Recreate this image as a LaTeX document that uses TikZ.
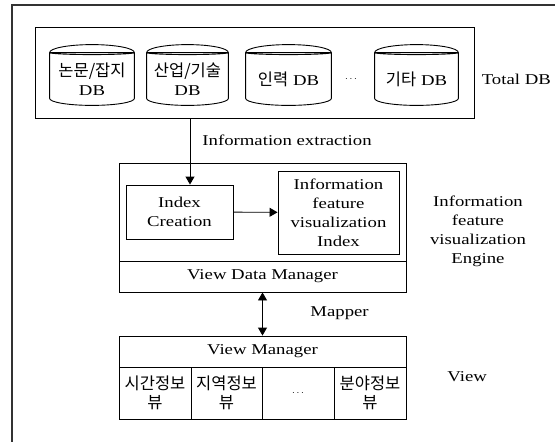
\documentclass[tikz,border=0pt]{standalone}
\usepackage{fontspec}
\setmainfont[FakeStretch=1.25]{Liberation Serif}
\newfontfamily\kr[Scale=1.1]{Noto Sans CJK KR}
\usetikzlibrary{arrows.meta,positioning,calc}

\begin{document}
\begin{tikzpicture}[x=1pt, y=-1pt, thick, font=\fontsize{15}{19}\selectfont,
    box/.style={rectangle, draw, line width=0.9pt, inner sep=0pt, align=center},
    dbcyl/.style={rectangle, inner sep=0pt, align=center, minimum height=52pt},
    tag/.style={inner sep=0pt, align=center},
    tip/.style={-{Triangle[length=8pt, width=9pt]}, line width=0.9pt},
    tips/.style={{Triangle[length=8pt, width=9pt]}-{Triangle[length=8pt, width=9pt]}, line width=0.9pt}]
    \useasboundingbox (0,0) rectangle (555,442);
    % outer frame
    \draw[line width=1.6pt, black!80] (12,442) -- (12,5) -- (555,5);

    % Total DB
    \node[box, minimum width=439pt, minimum height=91pt] (totaldb) at (254.5,72.5) {};
    \node[dbcyl, minimum width=84pt] (db1) at (92,79) {{\kr 논문/잡지}\\DB};
    \node[dbcyl, minimum width=81pt] (db2) at (187.5,79) {{\kr 산업/기술}\\DB};
    \node[dbcyl, minimum width=85pt] (db3) at (288.5,79) {{\kr 인력} DB};
    \node[tag] (dbdots) at (351,79) {\fontsize{10}{12}\selectfont$\cdots$};
    \node[dbcyl, minimum width=83pt] (db4) at (416.5,79) {{\kr 기타} DB};
    \foreach \db in {db1,db2,db3,db4}
        \draw[line width=0.9pt] let \p1=(\db.north west), \p2=(\db.south east), \n1={(\x2-\x1)/2} in
            (\x1,\y1) arc[start angle=180, end angle=0, x radius=\n1, y radius=8pt]
            -- (\x2,\y2+7pt) arc[start angle=0, end angle=-180, x radius=\n1, y radius=7pt] -- cycle
            (\x1,\y1) -- (\x2,\y1)
            (\x1,\y1) arc[start angle=180, end angle=360, x radius=\n1, y radius=2pt];
    \node[tag, right=23pt of db4] (totallbl) {Total DB};

    % engine
    \node[box, minimum width=287pt, minimum height=98pt] (engine) at (262.5,212) {};
    \node[box, minimum width=287pt, minimum height=31pt] (vdm) at (262.5,276.5) {View Data Manager};
    \node[box, minimum width=107pt, minimum height=54pt] (index) at (179.5,212) {Index\\Creation};
    \node[box, minimum width=121pt, minimum height=83pt] (info) at (338.5,212.5) {Information\\feature\\visualization\\Index};
    \node[tag] (englbl) at (478,231) {Information\\feature\\visualization\\Engine};

    % view
    \node[box, minimum width=287pt, minimum height=31pt] (vm) at (262.5,351.5) {View Manager};
    \node[box, minimum width=72pt, minimum height=52pt] (v1) at (155,393) {{\kr 시간정보}\\{\kr 뷰}};
    \node[box, minimum width=71pt, minimum height=52pt] (v2) at (226.5,393) {{\kr 지역정보}\\{\kr 뷰}};
    \node[box, minimum width=72pt, minimum height=52pt] (v3) at (298,393) {\fontsize{10}{12}\selectfont$\cdots$};
    \node[box, minimum width=72pt, minimum height=52pt] (v4) at (370,393) {{\kr 분야정보}\\{\kr 뷰}};
    \node[tag, anchor=west] (viewlbl) at (447,377) {View};

    % connectors
    \coordinate (exx) at (190,0);
    \draw[tip] (totaldb.south -| exx) -- (index.north -| exx);
    \node[tag, anchor=west] (extract) at (202,140) {Information extraction};
    \draw[tip] (index) -- (info);
    \draw[tips] (vdm) -- (vm);
    \node[tag, anchor=west] (mapper) at (310,313) {Mapper};
\end{tikzpicture}
\end{document}
